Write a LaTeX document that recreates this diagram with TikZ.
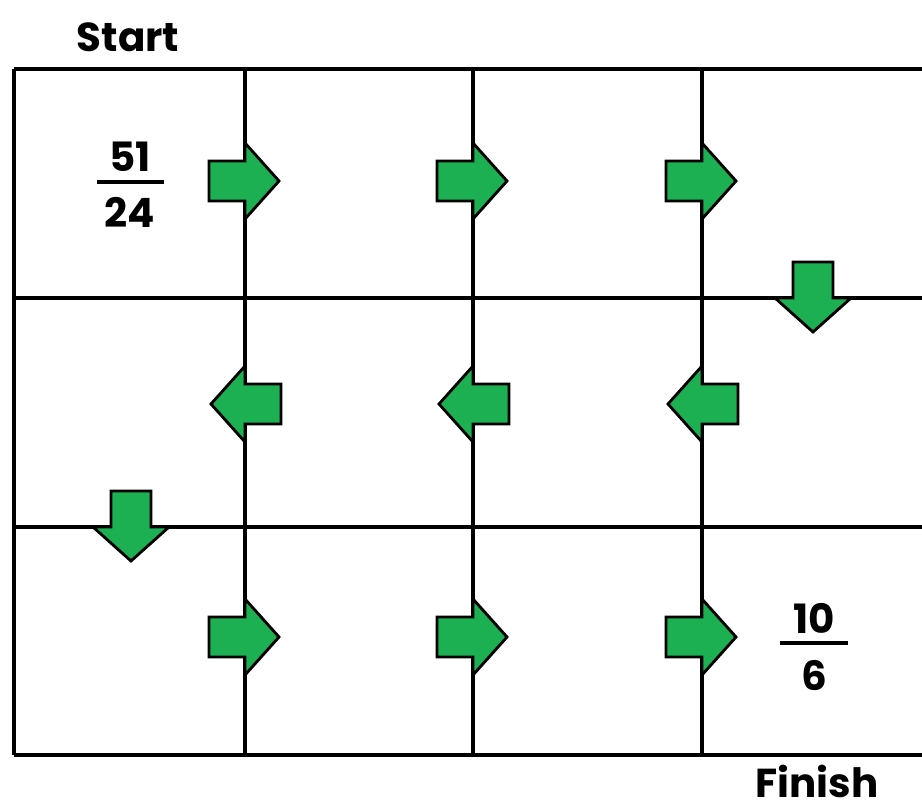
\documentclass[tikz,border=0pt]{standalone}
\usepackage{fontspec}
\setmainfont{Poppins}
\usetikzlibrary{positioning}
\definecolor{arrowgreen}{RGB}{28,176,82}

\begin{document}
\begin{tikzpicture}[
  x=0.02cm, y=-0.02cm,
  mazeline/.style={line width=2.2pt},
  lbl/.style={font=\fontsize{23}{27}\selectfont\bfseries, inner sep=0pt, anchor=base},
  fracbar/.style={line width=1.9pt},
  turn/.pic={
    \draw[line width=1.6pt, fill=arrowgreen, line join=miter]
      (-36,-20) -- (0,-20) -- (0,-38) -- (34,0) -- (0,38) -- (0,20) -- (-36,20) -- cycle;
  },
]
\useasboundingbox (0,0) rectangle (922,810);

% grid
\draw[mazeline] (14,69) -- (922,69);
\draw[mazeline] (14,298) -- (922,298);
\draw[mazeline] (14,527) -- (922,527);
\draw[mazeline] (14,755) -- (922,755);
\foreach \gx in {14,245,473,702}
  \draw[mazeline] (\gx,69) -- (\gx,755);

% labels
\node[lbl] (start) at (128,52) {Start};
\node[lbl] (finish) at (817,797) {Finish};
\node[lbl] (num1) at (130,172) {51};
\node[lbl] (den1) at (130,228) {24};
\draw[fracbar] (97,182) -- (164,182);
\node[lbl] (num2) at (814,633) {10};
\node[lbl] (den2) at (814,690) {6};
\draw[fracbar] (780,643) -- (848,643);

% path arrows
\pic at (245,181) {turn};
\pic at (473,181) {turn};
\pic at (702,181) {turn};
\pic[rotate=-90] at (813,298) {turn};
\pic[rotate=180] at (245,404) {turn};
\pic[rotate=180] at (473,404) {turn};
\pic[rotate=180] at (702,404) {turn};
\pic[rotate=-90] at (131,527) {turn};
\pic at (245,637) {turn};
\pic at (473,637) {turn};
\pic at (702,637) {turn};
\end{tikzpicture}
\end{document}
